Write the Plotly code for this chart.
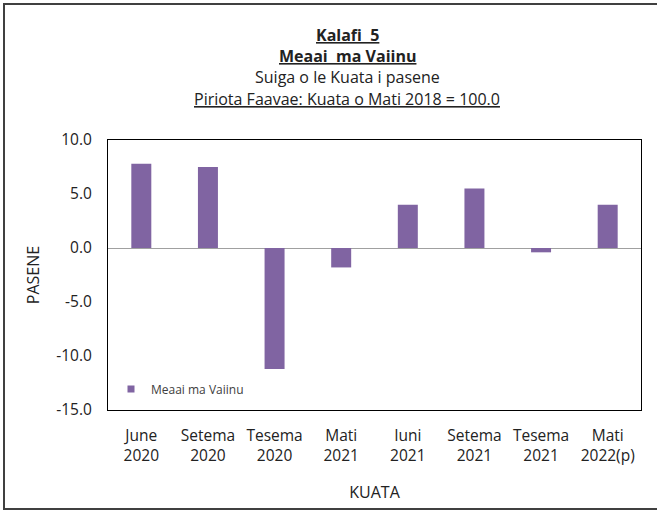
import plotly.graph_objects as go

categories = ["June<br>2020", "Setema<br>2020", "Tesema<br>2020", "Mati<br>2021",
              "Iuni<br>2021", "Setema<br>2021", "Tesema<br>2021", "Mati<br>2022(p)"]
values = [7.8, 7.5, -11.2, -1.8, 4.0, 5.5, -0.4, 4.0]
series_name = "Meaai ma Vaiinu"
y_ticks = [10, 5, 0, -5, -10, -15]
y_tick_labels = ["10.0", "5.0", "0.0", "-5.0", "-10.0", "-15.0"]

W, H = 657, 512
L, R, T, B = 108, 16, 140, 102
pw, ph = W - L - R, H - T - B

def px(x):
    return (x - L) / pw

def py(y):
    return (H - B - y) / ph

FONT = "Open Sans, Lato, sans-serif"
TXT = "#222222"
BAR = "#8064A2"

fig = go.Figure()
fig.add_trace(go.Bar(x=categories, y=values, name=series_name,
                     marker=dict(color=BAR, line=dict(width=0)),
                     showlegend=False))
# legend entry with a small square key, as in the original
fig.add_trace(go.Scatter(x=[None], y=[None], mode="markers", name=series_name,
                         marker=dict(symbol="square", size=7, color=BAR),
                         showlegend=True, hoverinfo="skip"))

fig.update_layout(
    width=W, height=H,
    margin=dict(l=L, r=R, t=T, b=B),
    paper_bgcolor="white", plot_bgcolor="white",
    font=dict(family=FONT, size=16, color=TXT),
    bargap=0.7,
    showlegend=True,
    legend=dict(x=px(111), y=py(389), xanchor="left", yanchor="middle",
                bgcolor="rgba(0,0,0,0)", font=dict(size=12, color="#404040"),
                itemwidth=30),
    xaxis=dict(showline=True, linecolor="black", linewidth=1, mirror=True,
               ticks="", tickfont=dict(size=15.5), showgrid=False,
               ticklabelstandoff=11,
               title=dict(text="KUATA", font=dict(size=16), standoff=22)),
    yaxis=dict(range=[-15, 10], tickvals=y_ticks, ticktext=y_tick_labels,
               showline=True, linecolor="black", linewidth=1, mirror=True,
               ticks="", showgrid=False, zeroline=True, zerolinecolor="#A0A0A0",
               zerolinewidth=1, tickfont=dict(size=15.5),
               ticklabelstandoff=12,
               title=dict(text="PASENE", font=dict(size=16), standoff=12)),
)

title_lines = [
    ("<b><u>Kalafi  5</u></b>", 35),
    ("<b><u>Meaai  ma Vaiinu</u></b>", 56),
    ("Suiga o le Kuata i pasene", 77),
    ("<u>Piriota Faavae: Kuata o Mati 2018 = 100.0</u>", 99),
]
for txt, yy in title_lines:
    fig.add_annotation(text=txt, x=px(347), y=py(yy), xref="paper", yref="paper",
                       xanchor="center", yanchor="middle", showarrow=False,
                       font=dict(size=16, color=TXT))

fig.add_shape(type="rect", xref="paper", yref="paper",
              x0=px(4), x1=px(662), y0=py(509), y1=py(4),
              line=dict(color="#404040", width=2), layer="below")

fig.write_html("out.html", config={"displayModeBar": False},
               post_script="document.body.style.margin='0';")
